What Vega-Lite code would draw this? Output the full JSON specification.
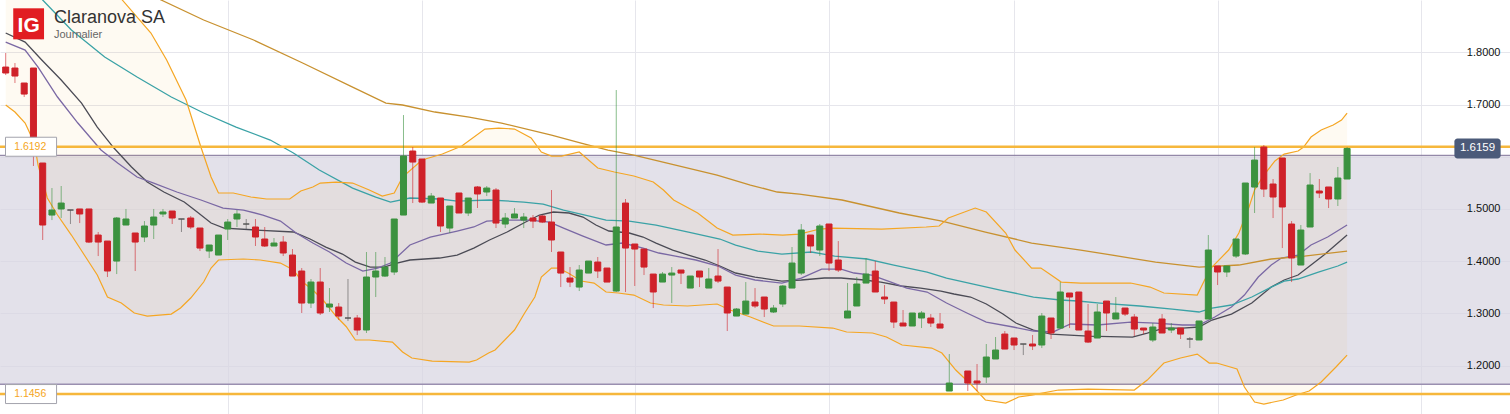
{
"$schema": "https://vega.github.io/schema/vega-lite/v6.json",
"width": 1510, "height": 414,
"autosize": {"type": "none"},
"padding": 0,
"background": "#ffffff",
"config": {"view": {"stroke": null}, "font": "Liberation Sans"},
"resolve": {"axis": {"x": "independent", "y": "independent"}},
"datasets": {
"zone": [{"lo": 1.1642, "hi": 1.6028}],
"levels": [{"v": 1.6192, "label": "1.6192"}, {"v": 1.1456, "label": "1.1456"}],
"badge": [{"v": 1.6159, "label": "1.6159"}],
"head": [{"logo": "IG", "t": "Claranova SA", "st": "Journalier"}],
"candles": [
{"i":0,"o":1.7718,"h":1.7987,"l":1.7565,"c":1.7604},
{"i":1,"o":1.7699,"h":1.7795,"l":1.7412,"c":1.7546},
{"i":2,"o":1.7412,"h":1.7412,"l":1.7144,"c":1.7201},
{"i":3,"o":1.7699,"h":1.7699,"l":1.5823,"c":1.6033},
{"i":4,"o":1.5880,"h":1.5880,"l":1.4406,"c":1.4693},
{"i":5,"o":1.4884,"h":1.5401,"l":1.4788,"c":1.4980},
{"i":6,"o":1.5000,"h":1.5440,"l":1.4827,"c":1.5114},
{"i":7,"o":1.4980,"h":1.4980,"l":1.4712,"c":1.4980},
{"i":8,"o":1.5000,"h":1.5000,"l":1.4731,"c":1.4904},
{"i":9,"o":1.5000,"h":1.5000,"l":1.4348,"c":1.4367},
{"i":10,"o":1.4501,"h":1.4559,"l":1.4099,"c":1.4367},
{"i":11,"o":1.4386,"h":1.4386,"l":1.3697,"c":1.3812},
{"i":12,"o":1.4003,"h":1.4846,"l":1.3754,"c":1.4827},
{"i":13,"o":1.4693,"h":1.5000,"l":1.4693,"c":1.4808},
{"i":14,"o":1.4540,"h":1.4540,"l":1.3812,"c":1.4367},
{"i":15,"o":1.4463,"h":1.4769,"l":1.4367,"c":1.4674},
{"i":16,"o":1.4693,"h":1.5000,"l":1.4425,"c":1.4846},
{"i":17,"o":1.4904,"h":1.5000,"l":1.4846,"c":1.4942},
{"i":18,"o":1.4961,"h":1.4961,"l":1.4712,"c":1.4827},
{"i":19,"o":1.4808,"h":1.4808,"l":1.4559,"c":1.4808},
{"i":20,"o":1.4827,"h":1.4865,"l":1.4616,"c":1.4655},
{"i":21,"o":1.4635,"h":1.4635,"l":1.4195,"c":1.4252},
{"i":22,"o":1.4195,"h":1.4310,"l":1.4061,"c":1.4310},
{"i":23,"o":1.4118,"h":1.4501,"l":1.4118,"c":1.4501},
{"i":24,"o":1.4616,"h":1.4808,"l":1.4406,"c":1.4750},
{"i":25,"o":1.4808,"h":1.4980,"l":1.4655,"c":1.4904},
{"i":26,"o":1.4712,"h":1.4808,"l":1.4616,"c":1.4712},
{"i":27,"o":1.4655,"h":1.4808,"l":1.4291,"c":1.4463},
{"i":28,"o":1.4425,"h":1.4655,"l":1.4272,"c":1.4291},
{"i":29,"o":1.4291,"h":1.4444,"l":1.4291,"c":1.4348},
{"i":30,"o":1.4367,"h":1.4482,"l":1.4099,"c":1.4157},
{"i":31,"o":1.4118,"h":1.4233,"l":1.3716,"c":1.3716},
{"i":32,"o":1.3812,"h":1.3869,"l":1.3008,"c":1.3199},
{"i":33,"o":1.3199,"h":1.3659,"l":1.3103,"c":1.3601},
{"i":34,"o":1.3601,"h":1.3869,"l":1.2970,"c":1.3008},
{"i":35,"o":1.3122,"h":1.3486,"l":1.3027,"c":1.3180},
{"i":36,"o":1.3122,"h":1.3199,"l":1.2874,"c":1.2950},
{"i":37,"o":1.2912,"h":1.3659,"l":1.2854,"c":1.2912},
{"i":38,"o":1.2912,"h":1.2970,"l":1.2586,"c":1.2682},
{"i":39,"o":1.2682,"h":1.4176,"l":1.2625,"c":1.3697},
{"i":40,"o":1.3697,"h":1.4176,"l":1.3314,"c":1.3812},
{"i":41,"o":1.3716,"h":1.4080,"l":1.3697,"c":1.3888},
{"i":42,"o":1.3793,"h":1.4808,"l":1.3735,"c":1.4808},
{"i":43,"o":1.4884,"h":1.6799,"l":1.4884,"c":1.6014},
{"i":44,"o":1.6110,"h":1.6186,"l":1.5114,"c":1.5899},
{"i":45,"o":1.5957,"h":1.5957,"l":1.5114,"c":1.5133},
{"i":46,"o":1.5114,"h":1.5306,"l":1.5114,"c":1.5248},
{"i":47,"o":1.5210,"h":1.5210,"l":1.4559,"c":1.4674},
{"i":48,"o":1.4635,"h":1.5057,"l":1.4540,"c":1.5057},
{"i":49,"o":1.5306,"h":1.5306,"l":1.4923,"c":1.4923},
{"i":50,"o":1.4923,"h":1.5210,"l":1.4865,"c":1.5210},
{"i":51,"o":1.5421,"h":1.5440,"l":1.5018,"c":1.5287},
{"i":52,"o":1.5325,"h":1.5440,"l":1.5248,"c":1.5401},
{"i":53,"o":1.5363,"h":1.5401,"l":1.4635,"c":1.4731},
{"i":54,"o":1.4712,"h":1.4923,"l":1.4635,"c":1.4827},
{"i":55,"o":1.4827,"h":1.5018,"l":1.4827,"c":1.4904},
{"i":56,"o":1.4788,"h":1.4923,"l":1.4635,"c":1.4846},
{"i":57,"o":1.4827,"h":1.4884,"l":1.4635,"c":1.4769},
{"i":58,"o":1.4865,"h":1.4884,"l":1.4731,"c":1.4750},
{"i":59,"o":1.4750,"h":1.5363,"l":1.4176,"c":1.4406},
{"i":60,"o":1.4176,"h":1.4176,"l":1.3505,"c":1.3773},
{"i":61,"o":1.3678,"h":1.3888,"l":1.3505,"c":1.3601},
{"i":62,"o":1.3505,"h":1.3927,"l":1.3429,"c":1.3831},
{"i":63,"o":1.3773,"h":1.4003,"l":1.3773,"c":1.4003},
{"i":64,"o":1.3984,"h":1.4080,"l":1.3678,"c":1.3812},
{"i":65,"o":1.3869,"h":1.3869,"l":1.3601,"c":1.3601},
{"i":66,"o":1.3429,"h":1.7278,"l":1.3410,"c":1.4655},
{"i":67,"o":1.5114,"h":1.5191,"l":1.3410,"c":1.4252},
{"i":68,"o":1.4329,"h":1.4329,"l":1.3525,"c":1.4233},
{"i":69,"o":1.4233,"h":1.4233,"l":1.3735,"c":1.3888},
{"i":70,"o":1.3754,"h":1.3754,"l":1.3103,"c":1.3410},
{"i":71,"o":1.3601,"h":1.3793,"l":1.3601,"c":1.3754},
{"i":72,"o":1.3735,"h":1.3888,"l":1.3199,"c":1.3773},
{"i":73,"o":1.3831,"h":1.3831,"l":1.3563,"c":1.3773},
{"i":74,"o":1.3486,"h":1.3716,"l":1.3486,"c":1.3716},
{"i":75,"o":1.3812,"h":1.3812,"l":1.3505,"c":1.3697},
{"i":76,"o":1.3486,"h":1.3869,"l":1.3486,"c":1.3659},
{"i":77,"o":1.3716,"h":1.4233,"l":1.3582,"c":1.3620},
{"i":78,"o":1.3505,"h":1.3505,"l":1.2663,"c":1.3008},
{"i":79,"o":1.2950,"h":1.3103,"l":1.2950,"c":1.3084},
{"i":80,"o":1.2988,"h":1.3601,"l":1.2988,"c":1.3237},
{"i":81,"o":1.3218,"h":1.3486,"l":1.3103,"c":1.3142},
{"i":82,"o":1.3314,"h":1.3314,"l":1.2931,"c":1.3084},
{"i":83,"o":1.3027,"h":1.3161,"l":1.3008,"c":1.3103},
{"i":84,"o":1.3180,"h":1.3544,"l":1.3122,"c":1.3525},
{"i":85,"o":1.3486,"h":1.4272,"l":1.3486,"c":1.3965},
{"i":86,"o":1.3773,"h":1.4712,"l":1.3735,"c":1.4597},
{"i":87,"o":1.4501,"h":1.4501,"l":1.4157,"c":1.4291},
{"i":88,"o":1.4214,"h":1.4712,"l":1.4099,"c":1.4674},
{"i":89,"o":1.4712,"h":1.4712,"l":1.3812,"c":1.3965},
{"i":90,"o":1.4023,"h":1.4386,"l":1.3793,"c":1.3831},
{"i":91,"o":1.2912,"h":1.3582,"l":1.2912,"c":1.3046},
{"i":92,"o":1.3142,"h":1.3697,"l":1.3142,"c":1.3563},
{"i":93,"o":1.3582,"h":1.4061,"l":1.3582,"c":1.3754},
{"i":94,"o":1.3812,"h":1.4003,"l":1.3410,"c":1.3410},
{"i":95,"o":1.3314,"h":1.3544,"l":1.3180,"c":1.3276},
{"i":96,"o":1.3218,"h":1.3218,"l":1.2720,"c":1.2835},
{"i":97,"o":1.2816,"h":1.3065,"l":1.2759,"c":1.2759},
{"i":98,"o":1.2759,"h":1.3008,"l":1.2759,"c":1.3008},
{"i":99,"o":1.2912,"h":1.3046,"l":1.2720,"c":1.3008},
{"i":100,"o":1.2912,"h":1.2988,"l":1.2740,"c":1.2816},
{"i":101,"o":1.2797,"h":1.3008,"l":1.2720,"c":1.2720},
{"i":102,"o":1.1514,"h":1.2222,"l":1.1514,"c":1.1667},
{"i":104,"o":1.1897,"h":1.1897,"l":1.1514,"c":1.1667},
{"i":105,"o":1.1706,"h":1.2031,"l":1.1514,"c":1.1667},
{"i":106,"o":1.1782,"h":1.2414,"l":1.1667,"c":1.2165},
{"i":107,"o":1.2127,"h":1.2548,"l":1.2127,"c":1.2299},
{"i":108,"o":1.2605,"h":1.2663,"l":1.2318,"c":1.2318},
{"i":109,"o":1.2529,"h":1.2529,"l":1.2299,"c":1.2395},
{"i":110,"o":1.2414,"h":1.2414,"l":1.2203,"c":1.2414},
{"i":111,"o":1.2414,"h":1.2586,"l":1.2299,"c":1.2376},
{"i":112,"o":1.2395,"h":1.3008,"l":1.2337,"c":1.2950},
{"i":113,"o":1.2912,"h":1.2912,"l":1.2510,"c":1.2625},
{"i":114,"o":1.2720,"h":1.3601,"l":1.2720,"c":1.3410},
{"i":115,"o":1.3391,"h":1.3391,"l":1.2720,"c":1.3314},
{"i":116,"o":1.3410,"h":1.3410,"l":1.2682,"c":1.2682},
{"i":117,"o":1.2663,"h":1.3180,"l":1.2433,"c":1.2452},
{"i":118,"o":1.2529,"h":1.3180,"l":1.2529,"c":1.3027},
{"i":119,"o":1.3237,"h":1.3237,"l":1.2663,"c":1.3008},
{"i":120,"o":1.2893,"h":1.3314,"l":1.2893,"c":1.3008},
{"i":121,"o":1.3103,"h":1.3103,"l":1.2950,"c":1.2988},
{"i":122,"o":1.2931,"h":1.2988,"l":1.2567,"c":1.2701},
{"i":123,"o":1.2720,"h":1.2720,"l":1.2605,"c":1.2682},
{"i":124,"o":1.2491,"h":1.2816,"l":1.2452,"c":1.2740},
{"i":125,"o":1.2893,"h":1.2988,"l":1.2625,"c":1.2625},
{"i":126,"o":1.2682,"h":1.2816,"l":1.2625,"c":1.2720},
{"i":127,"o":1.2720,"h":1.2720,"l":1.2510,"c":1.2605},
{"i":128,"o":1.2510,"h":1.2548,"l":1.2337,"c":1.2510},
{"i":129,"o":1.2491,"h":1.2855,"l":1.2491,"c":1.2855},
{"i":130,"o":1.2893,"h":1.4501,"l":1.2893,"c":1.4214},
{"i":131,"o":1.3908,"h":1.3908,"l":1.3544,"c":1.3793},
{"i":132,"o":1.3793,"h":1.3908,"l":1.3697,"c":1.3908},
{"i":133,"o":1.4099,"h":1.4425,"l":1.4061,"c":1.4425},
{"i":134,"o":1.4138,"h":1.5497,"l":1.4118,"c":1.5497},
{"i":135,"o":1.5420,"h":1.6186,"l":1.4923,"c":1.5937},
{"i":136,"o":1.6186,"h":1.6225,"l":1.5229,"c":1.5382},
{"i":137,"o":1.5478,"h":1.5574,"l":1.4827,"c":1.5229},
{"i":138,"o":1.5976,"h":1.5976,"l":1.4252,"c":1.5038},
{"i":139,"o":1.4712,"h":1.4769,"l":1.3601,"c":1.4061},
{"i":140,"o":1.3927,"h":1.4693,"l":1.3927,"c":1.4597},
{"i":141,"o":1.4655,"h":1.5688,"l":1.4655,"c":1.5459},
{"i":142,"o":1.5344,"h":1.5574,"l":1.5210,"c":1.5306},
{"i":143,"o":1.5421,"h":1.5421,"l":1.5018,"c":1.5191},
{"i":144,"o":1.5191,"h":1.5804,"l":1.5057,"c":1.5593},
{"i":145,"o":1.5574,"h":1.6185,"l":1.5574,"c":1.6159}
],
"bb": [
{"s":"bu","i":0,"v":2.05},{"s":"bu","i":5.3,"v":1.99},{"s":"bu","i":10.7,"v":1.948},{"s":"bu","i":12.6,"v":1.9002},{"s":"bu","i":15.7,"v":1.837},{"s":"bu","i":17.4,"v":1.7853},{"s":"bu","i":19.5,"v":1.7086},{"s":"bu","i":21.1,"v":1.6186},{"s":"bu","i":22.2,"v":1.5612},{"s":"bu","i":23.0,"v":1.5306},{"s":"bu","i":24.6,"v":1.5306},{"s":"bu","i":26.5,"v":1.5229},{"s":"bu","i":28.2,"v":1.5191},{"s":"bu","i":30.7,"v":1.5191},{"s":"bu","i":31.9,"v":1.5344},{"s":"bu","i":33.2,"v":1.5421},{"s":"bu","i":34.0,"v":1.5497},{"s":"bu","i":35.7,"v":1.5516},{"s":"bu","i":37.5,"v":1.5497},{"s":"bu","i":39.3,"v":1.5363},{"s":"bu","i":40.7,"v":1.5248},{"s":"bu","i":42.0,"v":1.5306},{"s":"bu","i":42.9,"v":1.5612},{"s":"bu","i":45.0,"v":1.5938},{"s":"bu","i":47.2,"v":1.6052},{"s":"bu","i":49.3,"v":1.6206},{"s":"bu","i":51.8,"v":1.6531},{"s":"bu","i":53.3,"v":1.655},{"s":"bu","i":55.0,"v":1.6531},{"s":"bu","i":56.8,"v":1.6359},{"s":"bu","i":57.9,"v":1.6091},{"s":"bu","i":59.0,"v":1.6014},{"s":"bu","i":60.1,"v":1.6014},{"s":"bu","i":62.0,"v":1.6091},{"s":"bu","i":64.0,"v":1.5784},{"s":"bu","i":65.8,"v":1.5708},{"s":"bu","i":67.9,"v":1.5631},{"s":"bu","i":70.0,"v":1.5516},{"s":"bu","i":71.1,"v":1.5363},{"s":"bu","i":72.2,"v":1.5172},{"s":"bu","i":74.8,"v":1.4923},{"s":"bu","i":76.9,"v":1.4635},{"s":"bu","i":78.6,"v":1.4501},{"s":"bu","i":81.5,"v":1.452},{"s":"bu","i":84.0,"v":1.4501},{"s":"bu","i":85.8,"v":1.452},{"s":"bu","i":88.0,"v":1.4616},{"s":"bu","i":89.4,"v":1.4635},{"s":"bu","i":94.7,"v":1.4616},{"s":"bu","i":99.5,"v":1.4655},{"s":"bu","i":100.9,"v":1.4674},{"s":"bu","i":101.9,"v":1.4827},{"s":"bu","i":104.8,"v":1.5018},{"s":"bu","i":106.0,"v":1.4942},{"s":"bu","i":108.1,"v":1.454},{"s":"bu","i":109.1,"v":1.4214},{"s":"bu","i":110.9,"v":1.3869},{"s":"bu","i":111.9,"v":1.3869},{"s":"bu","i":113.0,"v":1.3735},{"s":"bu","i":114.1,"v":1.3601},{"s":"bu","i":116.2,"v":1.3582},{"s":"bu","i":121.6,"v":1.3582},{"s":"bu","i":123.7,"v":1.3505},{"s":"bu","i":125.2,"v":1.3391},{"s":"bu","i":128.8,"v":1.3352},{"s":"bu","i":129.6,"v":1.364},{"s":"bu","i":130.4,"v":1.3888},{"s":"bu","i":132.2,"v":1.4214},{"s":"bu","i":133.3,"v":1.454},{"s":"bu","i":134.4,"v":1.5038},{"s":"bu","i":135.0,"v":1.5363},{"s":"bu","i":136.0,"v":1.565},{"s":"bu","i":137.2,"v":1.592},{"s":"bu","i":138.2,"v":1.6052},{"s":"bu","i":139.7,"v":1.611},{"s":"bu","i":140.3,"v":1.6186},{"s":"bu","i":141.1,"v":1.6378},{"s":"bu","i":142.2,"v":1.6512},{"s":"bu","i":143.5,"v":1.6608},{"s":"bu","i":144.4,"v":1.6704},{"s":"bu","i":145.0,"v":1.6838},
{"s":"bl","i":145.0,"v":1.2203},{"s":"bl","i":143.8,"v":1.1974},{"s":"bl","i":142.2,"v":1.1686},{"s":"bl","i":140.9,"v":1.1514},{"s":"bl","i":139.5,"v":1.1437},{"s":"bl","i":138.1,"v":1.1342},{"s":"bl","i":136.0,"v":1.1265},{"s":"bl","i":135.0,"v":1.1303},{"s":"bl","i":133.9,"v":1.159},{"s":"bl","i":133.1,"v":1.1935},{"s":"bl","i":130.9,"v":1.205},{"s":"bl","i":130.1,"v":1.205},{"s":"bl","i":128.8,"v":1.2222},{"s":"bl","i":127.0,"v":1.2146},{"s":"bl","i":125.2,"v":1.205},{"s":"bl","i":123.4,"v":1.1724},{"s":"bl","i":122.0,"v":1.1533},{"s":"bl","i":117.0,"v":1.1552},{"s":"bl","i":113.8,"v":1.1533},{"s":"bl","i":110.9,"v":1.1437},{"s":"bl","i":109.5,"v":1.1399},{"s":"bl","i":108.1,"v":1.1284},{"s":"bl","i":105.9,"v":1.1342},{"s":"bl","i":104.4,"v":1.1629},{"s":"bl","i":102.7,"v":1.1916},{"s":"bl","i":101.2,"v":1.2242},{"s":"bl","i":100.1,"v":1.2337},{"s":"bl","i":96.9,"v":1.2395},{"s":"bl","i":95.2,"v":1.2548},{"s":"bl","i":93.7,"v":1.2625},{"s":"bl","i":90.9,"v":1.2644},{"s":"bl","i":89.4,"v":1.272},{"s":"bl","i":85.8,"v":1.2759},{"s":"bl","i":83.0,"v":1.2759},{"s":"bl","i":80.5,"v":1.2931},{"s":"bl","i":78.3,"v":1.3065},{"s":"bl","i":76.9,"v":1.318},{"s":"bl","i":73.7,"v":1.3142},{"s":"bl","i":71.1,"v":1.3161},{"s":"bl","i":69.7,"v":1.3199},{"s":"bl","i":67.9,"v":1.3352},{"s":"bl","i":66.2,"v":1.3391},{"s":"bl","i":64.9,"v":1.341},{"s":"bl","i":63.6,"v":1.3582},{"s":"bl","i":62.2,"v":1.362},{"s":"bl","i":60.8,"v":1.3773},{"s":"bl","i":59.7,"v":1.3869},{"s":"bl","i":59.0,"v":1.3869},{"s":"bl","i":57.9,"v":1.3697},{"s":"bl","i":57.2,"v":1.3314},{"s":"bl","i":56.1,"v":1.3008},{"s":"bl","i":55.0,"v":1.2682},{"s":"bl","i":52.9,"v":1.2299},{"s":"bl","i":52.2,"v":1.2242},{"s":"bl","i":50.9,"v":1.2107},{"s":"bl","i":50.1,"v":1.2069},{"s":"bl","i":46.1,"v":1.2088},{"s":"bl","i":43.9,"v":1.2146},{"s":"bl","i":42.9,"v":1.2261},{"s":"bl","i":41.8,"v":1.2452},{"s":"bl","i":39.3,"v":1.2491},{"s":"bl","i":37.8,"v":1.2491},{"s":"bl","i":36.8,"v":1.275},{"s":"bl","i":35.7,"v":1.295},{"s":"bl","i":34.3,"v":1.3257},{"s":"bl","i":33.2,"v":1.3448},{"s":"bl","i":32.1,"v":1.3601},{"s":"bl","i":31.1,"v":1.3831},{"s":"bl","i":29.7,"v":1.3965},{"s":"bl","i":27.5,"v":1.4023},{"s":"bl","i":25.7,"v":1.4042},{"s":"bl","i":23.0,"v":1.4023},{"s":"bl","i":22.2,"v":1.3869},{"s":"bl","i":21.4,"v":1.3601},{"s":"bl","i":20.0,"v":1.3295},{"s":"bl","i":18.9,"v":1.3103},{"s":"bl","i":17.9,"v":1.2988},{"s":"bl","i":15.3,"v":1.295},{"s":"bl","i":13.9,"v":1.3008},{"s":"bl","i":12.5,"v":1.3199},{"s":"bl","i":11.0,"v":1.3314},{"s":"bl","i":9.9,"v":1.3735},{"s":"bl","i":8.5,"v":1.4118},{"s":"bl","i":7.1,"v":1.4501},{"s":"bl","i":5.6,"v":1.4884},{"s":"bl","i":4.5,"v":1.521},{"s":"bl","i":3.5,"v":1.5842},{"s":"bl","i":3.1,"v":1.6263},{"s":"bl","i":2.1,"v":1.6646},{"s":"bl","i":1.0,"v":1.6857},{"s":"bl","i":0,"v":1.6991}
],
"ma": [
{"s":"sma","i":0,"v":1.837},{"s":"sma","i":2.1,"v":1.8197},{"s":"sma","i":3.9,"v":1.7853},{"s":"sma","i":6.0,"v":1.7469},{"s":"sma","i":8.2,"v":1.7029},{"s":"sma","i":9.9,"v":1.6569},{"s":"sma","i":11.7,"v":1.6167},{"s":"sma","i":13.6,"v":1.5803},{"s":"sma","i":15.3,"v":1.5516},{"s":"sma","i":17.1,"v":1.5325},{"s":"sma","i":19.3,"v":1.5133},{"s":"sma","i":20.7,"v":1.4942},{"s":"sma","i":22.2,"v":1.4731},{"s":"sma","i":23.6,"v":1.4635},{"s":"sma","i":27.1,"v":1.4597},{"s":"sma","i":31.1,"v":1.4559},{"s":"sma","i":32.9,"v":1.4425},{"s":"sma","i":34.6,"v":1.4271},{"s":"sma","i":36.4,"v":1.4137},{"s":"sma","i":37.8,"v":1.3984},{"s":"sma","i":39.4,"v":1.3888},{"s":"sma","i":40.9,"v":1.3888},{"s":"sma","i":42.3,"v":1.3965},{"s":"sma","i":43.7,"v":1.4023},{"s":"sma","i":46.9,"v":1.4061},{"s":"sma","i":48.8,"v":1.4118},{"s":"sma","i":50.6,"v":1.4252},{"s":"sma","i":52.3,"v":1.4406},{"s":"sma","i":54.2,"v":1.4559},{"s":"sma","i":56.0,"v":1.4731},{"s":"sma","i":57.7,"v":1.4884},{"s":"sma","i":59.2,"v":1.4942},{"s":"sma","i":60.9,"v":1.4923},{"s":"sma","i":62.4,"v":1.4846},{"s":"sma","i":63.8,"v":1.4693},{"s":"sma","i":65.2,"v":1.4578},{"s":"sma","i":67.4,"v":1.454},{"s":"sma","i":68.9,"v":1.4463},{"s":"sma","i":70.3,"v":1.4348},{"s":"sma","i":72.1,"v":1.4214},{"s":"sma","i":73.8,"v":1.4118},{"s":"sma","i":75.6,"v":1.4023},{"s":"sma","i":77.2,"v":1.3908},{"s":"sma","i":78.9,"v":1.3774},{"s":"sma","i":81.0,"v":1.3697},{"s":"sma","i":83.9,"v":1.362},{"s":"sma","i":86.0,"v":1.364},{"s":"sma","i":88.5,"v":1.3678},{"s":"sma","i":90.3,"v":1.3678},{"s":"sma","i":92.8,"v":1.364},{"s":"sma","i":94.6,"v":1.3601},{"s":"sma","i":96.8,"v":1.3525},{"s":"sma","i":98.9,"v":1.3486},{"s":"sma","i":101.1,"v":1.3429},{"s":"sma","i":102.5,"v":1.3372},{"s":"sma","i":104.3,"v":1.3314},{"s":"sma","i":106.0,"v":1.318},{"s":"sma","i":107.8,"v":1.2988},{"s":"sma","i":109.2,"v":1.2816},{"s":"sma","i":111.1,"v":1.2682},{"s":"sma","i":113.0,"v":1.2605},{"s":"sma","i":117.0,"v":1.2567},{"s":"sma","i":121.8,"v":1.2548},{"s":"sma","i":123.4,"v":1.2625},{"s":"sma","i":125.2,"v":1.272},{"s":"sma","i":127.2,"v":1.272},{"s":"sma","i":129.0,"v":1.274},{"s":"sma","i":130.4,"v":1.2874},{"s":"sma","i":132.5,"v":1.2988},{"s":"sma","i":134.7,"v":1.3199},{"s":"sma","i":136.8,"v":1.3505},{"s":"sma","i":138.2,"v":1.364},{"s":"sma","i":139.7,"v":1.3735},{"s":"sma","i":141.1,"v":1.3927},{"s":"sma","i":142.5,"v":1.4118},{"s":"sma","i":144.0,"v":1.4348},{"s":"sma","i":145.0,"v":1.4501},
{"s":"ema","i":0,"v":1.8197},{"s":"ema","i":2.1,"v":1.8044},{"s":"ema","i":3.5,"v":1.7718},{"s":"ema","i":5.6,"v":1.7144},{"s":"ema","i":7.8,"v":1.6646},{"s":"ema","i":10.3,"v":1.6129},{"s":"ema","i":12.1,"v":1.588},{"s":"ema","i":14.2,"v":1.5612},{"s":"ema","i":16.0,"v":1.5497},{"s":"ema","i":18.5,"v":1.5325},{"s":"ema","i":21.1,"v":1.5172},{"s":"ema","i":23.5,"v":1.5018},{"s":"ema","i":25.7,"v":1.498},{"s":"ema","i":27.8,"v":1.4884},{"s":"ema","i":29.7,"v":1.4769},{"s":"ema","i":31.4,"v":1.454},{"s":"ema","i":33.2,"v":1.4348},{"s":"ema","i":35.0,"v":1.4176},{"s":"ema","i":36.8,"v":1.3965},{"s":"ema","i":38.6,"v":1.3812},{"s":"ema","i":40.2,"v":1.3869},{"s":"ema","i":41.6,"v":1.3965},{"s":"ema","i":43.7,"v":1.431},{"s":"ema","i":45.9,"v":1.4463},{"s":"ema","i":48.8,"v":1.4578},{"s":"ema","i":50.6,"v":1.4655},{"s":"ema","i":52.0,"v":1.4769},{"s":"ema","i":54.1,"v":1.4788},{"s":"ema","i":56.6,"v":1.4788},{"s":"ema","i":58.8,"v":1.475},{"s":"ema","i":60.3,"v":1.4635},{"s":"ema","i":62.4,"v":1.4482},{"s":"ema","i":64.9,"v":1.431},{"s":"ema","i":66.7,"v":1.4348},{"s":"ema","i":68.9,"v":1.4252},{"s":"ema","i":70.6,"v":1.4157},{"s":"ema","i":72.4,"v":1.4099},{"s":"ema","i":74.6,"v":1.4023},{"s":"ema","i":77.0,"v":1.3908},{"s":"ema","i":78.9,"v":1.3735},{"s":"ema","i":81.0,"v":1.364},{"s":"ema","i":83.9,"v":1.3582},{"s":"ema","i":86.0,"v":1.3678},{"s":"ema","i":88.2,"v":1.385},{"s":"ema","i":90.3,"v":1.385},{"s":"ema","i":91.7,"v":1.3774},{"s":"ema","i":93.6,"v":1.3735},{"s":"ema","i":95.7,"v":1.3601},{"s":"ema","i":97.4,"v":1.3486},{"s":"ema","i":99.6,"v":1.341},{"s":"ema","i":101.7,"v":1.3199},{"s":"ema","i":103.9,"v":1.3008},{"s":"ema","i":106.0,"v":1.2835},{"s":"ema","i":108.9,"v":1.274},{"s":"ema","i":111.1,"v":1.2663},{"s":"ema","i":113.2,"v":1.2644},{"s":"ema","i":115.1,"v":1.2797},{"s":"ema","i":118.0,"v":1.2778},{"s":"ema","i":121.6,"v":1.2835},{"s":"ema","i":124.3,"v":1.2816},{"s":"ema","i":127.2,"v":1.2778},{"s":"ema","i":129.0,"v":1.2778},{"s":"ema","i":130.7,"v":1.2931},{"s":"ema","i":132.5,"v":1.3122},{"s":"ema","i":133.9,"v":1.3352},{"s":"ema","i":135.4,"v":1.3697},{"s":"ema","i":136.8,"v":1.3927},{"s":"ema","i":137.9,"v":1.4061},{"s":"ema","i":139.7,"v":1.4118},{"s":"ema","i":141.1,"v":1.431},{"s":"ema","i":142.9,"v":1.4463},{"s":"ema","i":145.0,"v":1.4693},
{"s":"ma50","i":0,"v":1.975},{"s":"ma50","i":4.0,"v":1.9002},{"s":"ma50","i":7.1,"v":1.8427},{"s":"ma50","i":10.7,"v":1.791},{"s":"ma50","i":14.2,"v":1.7527},{"s":"ma50","i":17.9,"v":1.7144},{"s":"ma50","i":21.4,"v":1.6838},{"s":"ma50","i":24.9,"v":1.6569},{"s":"ma50","i":28.6,"v":1.632},{"s":"ma50","i":31.1,"v":1.6072},{"s":"ma50","i":33.9,"v":1.5746},{"s":"ma50","i":37.5,"v":1.5401},{"s":"ma50","i":40.0,"v":1.5229},{"s":"ma50","i":41.6,"v":1.5133},{"s":"ma50","i":43.7,"v":1.521},{"s":"ma50","i":46.9,"v":1.5191},{"s":"ma50","i":48.8,"v":1.5152},{"s":"ma50","i":52.3,"v":1.5172},{"s":"ma50","i":56.0,"v":1.5133},{"s":"ma50","i":58.1,"v":1.5095},{"s":"ma50","i":60.3,"v":1.498},{"s":"ma50","i":63.1,"v":1.4865},{"s":"ma50","i":64.9,"v":1.4788},{"s":"ma50","i":67.4,"v":1.4769},{"s":"ma50","i":70.3,"v":1.4693},{"s":"ma50","i":73.8,"v":1.4559},{"s":"ma50","i":77.2,"v":1.4425},{"s":"ma50","i":78.9,"v":1.431},{"s":"ma50","i":81.3,"v":1.4195},{"s":"ma50","i":83.9,"v":1.4137},{"s":"ma50","i":87.1,"v":1.4176},{"s":"ma50","i":89.6,"v":1.4099},{"s":"ma50","i":93.1,"v":1.4042},{"s":"ma50","i":96.0,"v":1.3927},{"s":"ma50","i":99.6,"v":1.3793},{"s":"ma50","i":101.7,"v":1.3678},{"s":"ma50","i":104.6,"v":1.3563},{"s":"ma50","i":107.5,"v":1.3448},{"s":"ma50","i":111.1,"v":1.3314},{"s":"ma50","i":114.0,"v":1.3257},{"s":"ma50","i":115.9,"v":1.3238},{"s":"ma50","i":118.3,"v":1.3199},{"s":"ma50","i":122.6,"v":1.3142},{"s":"ma50","i":126.1,"v":1.3084},{"s":"ma50","i":129.0,"v":1.3027},{"s":"ma50","i":130.4,"v":1.3103},{"s":"ma50","i":132.5,"v":1.3161},{"s":"ma50","i":134.7,"v":1.3314},{"s":"ma50","i":136.8,"v":1.3505},{"s":"ma50","i":138.2,"v":1.362},{"s":"ma50","i":139.7,"v":1.3659},{"s":"ma50","i":141.9,"v":1.3793},{"s":"ma50","i":144.0,"v":1.3908},{"s":"ma50","i":145.0,"v":1.3984},
{"s":"ma200","i":0,"v":2.04},{"s":"ma200","i":16.8,"v":1.9002},{"s":"ma200","i":21.4,"v":1.8619},{"s":"ma200","i":26.8,"v":1.8236},{"s":"ma200","i":32.1,"v":1.7795},{"s":"ma200","i":37.5,"v":1.7335},{"s":"ma200","i":41.1,"v":1.7029},{"s":"ma200","i":42.9,"v":1.6991},{"s":"ma200","i":46.4,"v":1.6857},{"s":"ma200","i":50.1,"v":1.6761},{"s":"ma200","i":53.6,"v":1.6646},{"s":"ma200","i":59.0,"v":1.6416},{"s":"ma200","i":62.2,"v":1.6263},{"s":"ma200","i":65.1,"v":1.6129},{"s":"ma200","i":67.9,"v":1.6033},{"s":"ma200","i":71.5,"v":1.588},{"s":"ma200","i":76.9,"v":1.565},{"s":"ma200","i":80.5,"v":1.5459},{"s":"ma200","i":83.4,"v":1.5325},{"s":"ma200","i":85.8,"v":1.5286},{"s":"ma200","i":90.4,"v":1.5172},{"s":"ma200","i":96.6,"v":1.4923},{"s":"ma200","i":101.2,"v":1.4769},{"s":"ma200","i":105.9,"v":1.4559},{"s":"ma200","i":110.9,"v":1.4348},{"s":"ma200","i":116.2,"v":1.4214},{"s":"ma200","i":121.6,"v":1.4061},{"s":"ma200","i":124.3,"v":1.3984},{"s":"ma200","i":129.0,"v":1.3888},{"s":"ma200","i":133.3,"v":1.3927},{"s":"ma200","i":136.8,"v":1.4042},{"s":"ma200","i":140.4,"v":1.4099},{"s":"ma200","i":145.0,"v":1.4195}
]
},
"layer": [
{"data": {"name": "zone"},
 "mark": {"type": "rect", "fill": "#d8d6e2", "fillOpacity": 0.72},
 "encoding": {
  "y": {"field": "lo", "type": "quantitative", "scale": {"domain": [1.1074, 1.9002], "nice": false, "zero": false},
        "axis": {"title": null, "grid": true, "gridColor": "#e6e6ec", "gridWidth": 1, "labels": false, "ticks": false, "domain": false, "values": [1.2, 1.3, 1.4, 1.5, 1.6, 1.7, 1.8], "zindex": 0}},
  "y2": {"field": "hi"}}},
{"data": {"name": "zone"},
 "mark": {"type": "rule", "color": "#7f7197", "strokeWidth": 1},
 "encoding": {"y": {"field": "hi", "type": "quantitative", "scale": {"domain": [1.1074, 1.9002], "nice": false, "zero": false}, "axis": null}}},
{"data": {"name": "zone"},
 "mark": {"type": "rule", "color": "#9a8fb0", "strokeWidth": 1.5},
 "encoding": {"y": {"field": "lo", "type": "quantitative", "scale": {"domain": [1.1074, 1.9002], "nice": false, "zero": false}, "axis": null}}},
{"data": {"name": "bb"},
 "mark": {"type": "line", "fill": "#f5a623", "fillOpacity": 0.06, "strokeOpacity": 0, "clip": true},
 "encoding": {
  "x": {"field": "i", "type": "quantitative", "scale": {"domain": [-0.075, 162.07], "nice": false, "zero": false}, "axis": null},
  "y": {"field": "v", "type": "quantitative", "scale": {"domain": [1.1074, 1.9002], "nice": false, "zero": false}, "axis": null},
  "order": {"value": null}}},
{"data": {"name": "ma"},
 "mark": {"type": "line", "strokeWidth": 1.3, "clip": true},
 "encoding": {
  "x": {"field": "i", "type": "quantitative", "scale": {"domain": [-0.075, 162.07], "nice": false, "zero": false}, "axis": null},
  "y": {"field": "v", "type": "quantitative", "scale": {"domain": [1.1074, 1.9002], "nice": false, "zero": false}, "axis": null},
  "color": {"field": "s", "type": "nominal", "scale": {"domain": ["ma200", "ma50", "sma", "ema"], "range": ["#c8912f", "#3aa2a6", "#4b4b55", "#7a68a4"]}, "legend": null}}},
{"data": {"name": "bb"},
 "mark": {"type": "line", "color": "#f5a623", "strokeWidth": 1.2, "clip": true},
 "encoding": {
  "x": {"field": "i", "type": "quantitative", "scale": {"domain": [-0.075, 162.07], "nice": false, "zero": false}, "axis": null},
  "y": {"field": "v", "type": "quantitative", "scale": {"domain": [1.1074, 1.9002], "nice": false, "zero": false}, "axis": null},
  "detail": {"field": "s"}}},
{"data": {"name": "levels"},
 "mark": {"type": "rule", "color": "#f6b73c", "strokeWidth": 2.6},
 "encoding": {"y": {"field": "v", "type": "quantitative", "scale": {"domain": [1.1074, 1.9002], "nice": false, "zero": false}, "axis": null}}},
{"data": {"name": "candles"},
 "mark": {"type": "rule", "strokeWidth": 1, "opacity": 0.6},
 "encoding": {
  "x": {"field": "i", "type": "quantitative", "scale": {"domain": [-0.075, 162.07], "nice": false, "zero": false},
        "axis": {"title": null, "grid": true, "gridColor": "#e6e6ec", "gridWidth": 1, "labels": false, "ticks": false, "domain": false, "values": [24, 45, 68, 89, 109, 131, 153], "zindex": 0}},
  "y": {"field": "l", "type": "quantitative", "scale": {"domain": [1.1074, 1.9002], "nice": false, "zero": false}, "axis": null},
  "y2": {"field": "h"},
  "color": {"condition": [{"test": "datum.c > datum.o", "value": "#3b923f"}, {"test": "datum.c < datum.o", "value": "#cf2129"}], "value": "#555555"}}},
{"data": {"name": "candles"},
 "mark": {"type": "bar", "width": 6, "strokeWidth": 1},
 "encoding": {
  "x": {"field": "i", "type": "quantitative", "scale": {"domain": [-0.075, 162.07], "nice": false, "zero": false}, "axis": null},
  "y": {"field": "o", "type": "quantitative", "scale": {"domain": [1.1074, 1.9002], "nice": false, "zero": false}, "axis": null},
  "y2": {"field": "c"},
  "color": {"condition": [{"test": "datum.c > datum.o", "value": "#3b923f"}, {"test": "datum.c < datum.o", "value": "#cf2129"}], "value": "#555555"},
  "stroke": {"condition": [{"test": "datum.c > datum.o", "value": "#3b923f"}, {"test": "datum.c < datum.o", "value": "#cf2129"}], "value": "#555555"}}},
{"data": {"name": "levels"},
 "mark": {"type": "rect", "fill": "#ffffff", "stroke": "#a3a3ad", "strokeWidth": 1, "yOffset": -9.5, "y2Offset": 9.5},
 "encoding": {
  "x": {"datum": -0.02, "type": "quantitative", "scale": {"domain": [-0.075, 162.07], "nice": false, "zero": false}, "axis": null},
  "x2": {"datum": 5.5},
  "y": {"field": "v", "type": "quantitative", "scale": {"domain": [1.1074, 1.9002], "nice": false, "zero": false}, "axis": null},
  "y2": {"field": "v"}}},
{"data": {"name": "levels"},
 "mark": {"type": "text", "color": "#f5a623", "fontSize": 10.5, "align": "center", "baseline": "middle", "font": "Liberation Sans"},
 "encoding": {
  "x": {"datum": 2.65, "type": "quantitative", "scale": {"domain": [-0.075, 162.07], "nice": false, "zero": false}, "axis": null},
  "y": {"field": "v", "type": "quantitative", "scale": {"domain": [1.1074, 1.9002], "nice": false, "zero": false}, "axis": null},
  "text": {"field": "label"}}},
{"data": {"name": "badge"},
 "mark": {"type": "rect", "fill": "#4b5a79", "cornerRadius": 3, "yOffset": -10, "y2Offset": 10},
 "encoding": {
  "x": {"datum": 156.6, "type": "quantitative", "scale": {"domain": [-0.075, 162.07], "nice": false, "zero": false}, "axis": null},
  "x2": {"datum": 161.6},
  "y": {"field": "v", "type": "quantitative", "scale": {"domain": [1.1074, 1.9002], "nice": false, "zero": false},
        "axis": {"orient": "right", "title": null, "grid": false, "ticks": false, "domain": false, "labelPadding": -10, "labelAlign": "right", "labelBaseline": "middle", "labelFontSize": 11, "labelColor": "#111111", "labelFont": "Liberation Sans", "labelFlush": false, "format": ".4f", "values": [1.2, 1.3, 1.4, 1.5, 1.7, 1.8], "zindex": 1}},
  "y2": {"field": "v"}}},
{"data": {"name": "badge"},
 "mark": {"type": "text", "color": "#ffffff", "fontSize": 11.5, "align": "center", "baseline": "middle", "font": "Liberation Sans"},
 "encoding": {
  "x": {"datum": 159.1, "type": "quantitative", "scale": {"domain": [-0.075, 162.07], "nice": false, "zero": false}, "axis": null},
  "y": {"field": "v", "type": "quantitative", "scale": {"domain": [1.1074, 1.9002], "nice": false, "zero": false}, "axis": null},
  "text": {"field": "label"}}},
{"data": {"name": "head"},
 "mark": {"type": "rect", "fill": "#e11d22"},
 "encoding": {
  "x": {"datum": 0.816, "type": "quantitative", "scale": {"domain": [-0.075, 162.07], "nice": false, "zero": false}, "axis": null},
  "x2": {"datum": 4.145},
  "y": {"datum": 1.8843, "type": "quantitative", "scale": {"domain": [1.1074, 1.9002], "nice": false, "zero": false}, "axis": null},
  "y2": {"datum": 1.8249}}},
{"data": {"name": "head"},
 "mark": {"type": "text", "color": "#ffffff", "fontSize": 21, "fontWeight": "bold", "align": "center", "baseline": "alphabetic", "font": "Liberation Sans"},
 "encoding": {
  "x": {"datum": 2.48, "type": "quantitative", "scale": {"domain": [-0.075, 162.07], "nice": false, "zero": false}, "axis": null},
  "y": {"datum": 1.8389, "type": "quantitative", "scale": {"domain": [1.1074, 1.9002], "nice": false, "zero": false}, "axis": null},
  "text": {"field": "logo"}}},
{"data": {"name": "head"},
 "mark": {"type": "text", "color": "#333333", "fontSize": 18, "align": "left", "baseline": "alphabetic", "font": "Liberation Sans"},
 "encoding": {
  "x": {"datum": 5.22, "type": "quantitative", "scale": {"domain": [-0.075, 162.07], "nice": false, "zero": false}, "axis": null},
  "y": {"datum": 1.8567, "type": "quantitative", "scale": {"domain": [1.1074, 1.9002], "nice": false, "zero": false}, "axis": null},
  "text": {"field": "t"}}},
{"data": {"name": "head"},
 "mark": {"type": "text", "color": "#666666", "fontSize": 11, "align": "left", "baseline": "alphabetic", "font": "Liberation Sans"},
 "encoding": {
  "x": {"datum": 5.22, "type": "quantitative", "scale": {"domain": [-0.075, 162.07], "nice": false, "zero": false}, "axis": null},
  "y": {"datum": 1.8268, "type": "quantitative", "scale": {"domain": [1.1074, 1.9002], "nice": false, "zero": false}, "axis": null},
  "text": {"field": "st"}}}
]
}
